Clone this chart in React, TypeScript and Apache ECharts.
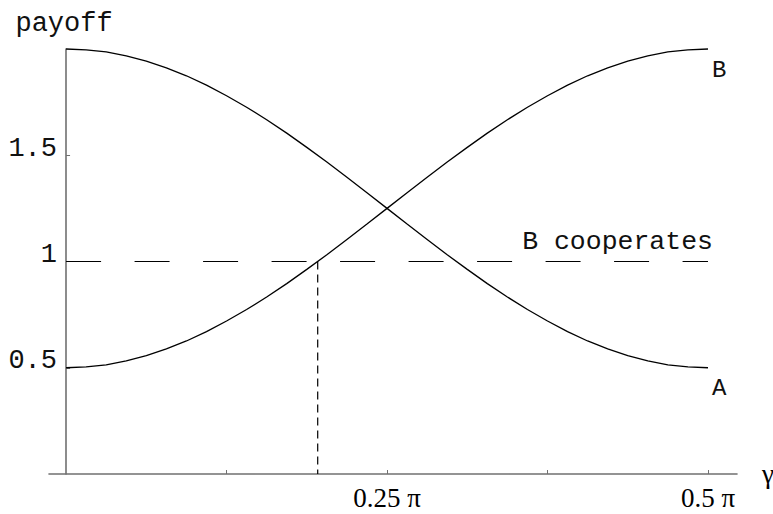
import React, { useEffect, useRef } from "react";
import * as echarts from "echarts";

// gamma in units of pi
const gammaValues = [
  0, 0.015625, 0.03125, 0.046875, 0.0625, 0.078125, 0.09375, 0.109375, 0.125,
  0.140625, 0.15625, 0.171875, 0.1875, 0.203125, 0.21875, 0.234375, 0.25,
  0.265625, 0.28125, 0.296875, 0.3125, 0.328125, 0.34375, 0.359375, 0.375,
  0.390625, 0.40625, 0.421875, 0.4375, 0.453125, 0.46875, 0.484375, 0.5,
];
const payoffA = [
  2.0, 1.996, 1.986, 1.968, 1.943, 1.911, 1.874, 1.83, 1.78,
  1.726, 1.667, 1.604, 1.537, 1.468, 1.396, 1.324, 1.25,
  1.176, 1.104, 1.032, 0.963, 0.896, 0.833, 0.774, 0.72,
  0.67, 0.626, 0.589, 0.557, 0.532, 0.514, 0.504, 0.5,
];
const payoffB = [
  0.5, 0.504, 0.514, 0.532, 0.557, 0.589, 0.626, 0.67, 0.72,
  0.774, 0.833, 0.896, 0.963, 1.032, 1.104, 1.176, 1.25,
  1.324, 1.396, 1.468, 1.537, 1.604, 1.667, 1.726, 1.78,
  1.83, 1.874, 1.911, 1.943, 1.968, 1.986, 1.996, 2.0,
];
const cooperateLevel = 1;
const cooperateRange = [0, 0.5];
const crossingGamma = 0.196;
const xTickValues = [0.125, 0.25, 0.375, 0.5];
const xLabelValues = [0.25, 0.5];
const xLabelTexts = ["0.25 π", "0.5 π"];
const yTickValues = [0.5, 1, 1.5];
const yLabelTexts = ["0.5", "1", "1.5"];

const MONO = "'Liberation Mono', 'DejaVu Sans Mono', monospace";
const SERIF = "'Liberation Serif', 'DejaVu Serif', serif";

export default function App() {
  const ref = useRef<HTMLDivElement>(null);
  useEffect(() => {
    if (!ref.current) return;
    const chart = echarts.init(ref.current, null, { renderer: "svg" });
    const axisColor = "#707070";
    const option = {
      animation: false,
      backgroundColor: "#ffffff",
      grid: { left: 49, right: 36, top: 49, bottom: 40, containLabel: false, outerBoundsMode: "none" },
      xAxis: {
        type: "value",
        min: -0.0133,
        max: 0.5226,
        name: "γ",
        nameLocation: "end",
        nameGap: 25,
        nameTextStyle: { fontFamily: SERIF, fontSize: 27, color: "#000", verticalAlign: "middle", padding: [0, 0, 6, 0] },
        axisLine: { show: true, onZero: true, lineStyle: { color: axisColor, width: 1.6 } },
        axisTick: { show: true, inside: true, length: 4, customValues: xTickValues, lineStyle: { color: axisColor, width: 1 } },
        axisLabel: {
          show: true,
          customValues: xLabelValues,
          margin: 10,
          fontFamily: SERIF,
          fontSize: 27,
          color: "#000",
          formatter: (v: number) => {
            const i = xLabelValues.indexOf(v);
            return i >= 0 ? xLabelTexts[i] : "";
          },
        },
        splitLine: { show: false },
      },
      yAxis: {
        type: "value",
        min: 0,
        max: 2,
        name: "payoff",
        nameLocation: "end",
        nameGap: 12,
        nameTextStyle: { fontFamily: MONO, fontSize: 27, color: "#111", align: "center", padding: [0, 4, 0, 0] },
        axisLine: { show: true, onZero: true, lineStyle: { color: axisColor, width: 1.6 } },
        axisTick: { show: true, inside: true, length: 4, customValues: yTickValues, lineStyle: { color: axisColor, width: 1 } },
        axisLabel: {
          show: true,
          customValues: yTickValues,
          margin: -8,
          fontFamily: MONO,
          fontSize: 27,
          lineHeight: 13,
          color: "#111",
          verticalAlign: "bottom",
          formatter: (v: number) => {
            const i = yTickValues.indexOf(v);
            return i >= 0 ? yLabelTexts[i] : "";
          },
        },
        splitLine: { show: false },
      },
      series: [
        {
          type: "line",
          name: "A",
          data: gammaValues.map((g, i) => [g, payoffA[i]]),
          smooth: false,
          symbol: "none",
          clip: false,
          silent: true,
          lineStyle: { color: "#000", width: 1.3 },
          endLabel: {
            show: true,
            formatter: "A",
            fontFamily: MONO,
            fontSize: 24,
            color: "#111",
            distance: 0,
            align: "left",
            verticalAlign: "middle",
            offset: [4, 21],
          },
        },
        {
          type: "line",
          name: "B",
          data: gammaValues.map((g, i) => [g, payoffB[i]]),
          smooth: false,
          symbol: "none",
          clip: false,
          silent: true,
          lineStyle: { color: "#000", width: 1.3 },
          endLabel: {
            show: true,
            formatter: "B",
            fontFamily: MONO,
            fontSize: 24,
            color: "#111",
            distance: 0,
            align: "left",
            verticalAlign: "middle",
            offset: [4, 21],
          },
        },
        {
          type: "line",
          name: "B cooperates",
          data: cooperateRange.map((g) => [g, cooperateLevel]),
          symbol: "none",
          clip: false,
          silent: true,
          lineStyle: { color: "#000", width: 1.2, type: [35, 33.5] },
          endLabel: {
            show: true,
            formatter: "B cooperates",
            fontFamily: MONO,
            fontSize: 26.5,
            color: "#111",
            distance: 0,
            align: "right",
            verticalAlign: "middle",
            offset: [5, -20],
          },
        },
        {
          type: "line",
          name: "crossing",
          data: [[crossingGamma, cooperateLevel], [crossingGamma, 0]],
          symbol: "none",
          clip: false,
          silent: true,
          lineStyle: { color: "#000", width: 1.2, type: [8, 5] },
        },
      ],
    };
    chart.setOption(option as any);
    return () => chart.dispose();
  }, []);
  return <div ref={ref} style={{ position: "absolute", left: 0, top: 0, width: 773, height: 514 }} />;
}
